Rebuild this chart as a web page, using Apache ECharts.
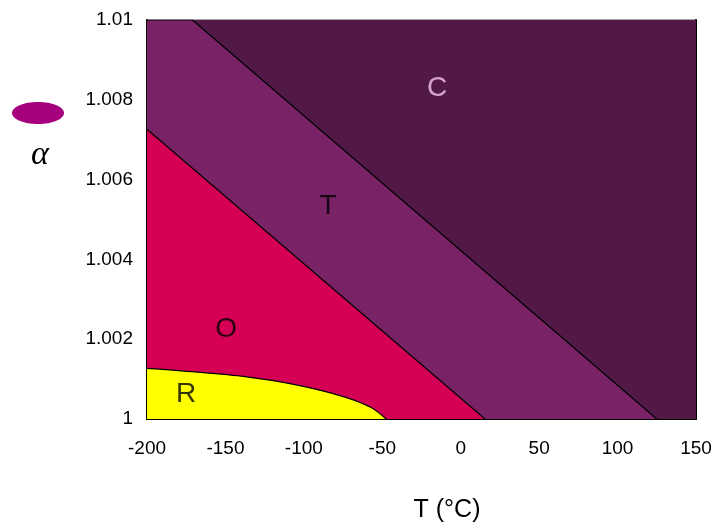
<!DOCTYPE html>
<html>
<head>
<meta charset="utf-8">
<script src="https://cdn.jsdelivr.net/npm/echarts@6/dist/echarts.min.js"></script>
<style>html,body{margin:0;padding:0;background:#fff}#c{width:715px;height:526px}</style>
</head>
<body>
<div id="c"></div>
<script>
// Phase-boundary data (T in °C, alpha)
const xTicks = [-200, -150, -100, -50, 0, 50, 100, 150];
const yTicks = [1, 1.002, 1.004, 1.006, 1.008, 1.01];
const regionC = [[-200, 1.01], [150, 1.01]];
const regionT = [[-200, 1.01], [-171, 1.01], [125, 1.0]];
const regionO = [[-200, 1.00726], [15.5, 1.0]];
const regionR = [[-200, 1.00127], [-169.4, 1.00118], [-137.5, 1.00106], [-105.6, 1.00086], [-73.8, 1.00055], [-56.8, 1.00028], [-47.5, 1.0]];
const regionLabels = [
  { name: 'C', value: [-15.1, 1.0083] },
  { name: 'T', value: [-84.6, 1.00534] },
  { name: 'O', value: [-149.6, 1.00224] },
  { name: 'R', value: [-175.1, 1.00061] }
];
const colors = { C: '#521846', T: '#7a2266', O: '#d50055', R: '#ffff00' };

const chart = echarts.init(document.getElementById('c'));
function areaSeries(data, color, z, lw, smooth) {
  return {
    type: 'line', data: data, symbol: 'none', z: z, silent: true,
    smooth: smooth || false,
    lineStyle: { color: '#000', width: lw },
    areaStyle: { color: color, opacity: 1, origin: 'start' }
  };
}
const font = '"Liberation Sans", Arial, sans-serif';
chart.setOption({
  animation: false,
  grid: { left: 147, right: 19, top: 20, bottom: 107, show: true, borderColor: '#555', borderWidth: 1, backgroundColor: 'transparent' },
  xAxis: {
    type: 'value', min: -200, max: 150, interval: 50,
    axisLine: { show: true, onZero: false, lineStyle: { color: '#000', width: 2 } },
    axisTick: { show: false }, splitLine: { show: false },
    axisLabel: { color: '#000', fontSize: 19, fontFamily: font, margin: 20 }
  },
  yAxis: [{
    type: 'value', min: 1, max: 1.01, interval: 0.002,
    axisLine: { show: true, onZero: false, lineStyle: { color: '#000', width: 2 } },
    axisTick: { show: false }, splitLine: { show: false },
    axisLabel: {
      color: '#000', fontSize: 19, fontFamily: font, margin: 14,
      formatter: function (v) {
        let best = yTicks.reduce((a, b) => Math.abs(b - v) < Math.abs(a - v) ? b : a);
        return String(best);
      }
    }
  }, {
    type: 'value', min: 1, max: 1.01, position: 'right',
    axisLine: { show: true, onZero: false, lineStyle: { color: '#000', width: 2 } },
    axisTick: { show: false }, splitLine: { show: false }, axisLabel: { show: false }
  }],
  series: [
    areaSeries(regionC, colors.C, 1, 0),
    areaSeries(regionT, colors.T, 2, 1.2),
    areaSeries(regionO, colors.O, 3, 1.2),
    areaSeries(regionR, colors.R, 4, 1.2, 0.3),
    {
      type: 'scatter', z: 10, symbolSize: 0, silent: true,
      data: regionLabels.map(d => ({
        name: d.name, value: d.value,
        label: { color: d.name === 'C' ? '#f8c8ec' : '#000' }
      })),
      label: {
        show: true, position: 'inside', formatter: '{b}',
        fontSize: 28, fontFamily: font
      }
    }
  ],
  graphic: [
    { type: 'ellipse', shape: { cx: 38, cy: 113, rx: 26, ry: 11 }, style: { fill: '#a6007e' } },
    { type: 'text', x: 40, y: 155, style: { text: 'α', font: 'italic 34px "Liberation Serif", "DejaVu Serif", serif', fill: '#000', textAlign: 'center', textVerticalAlign: 'middle' } },
    { type: 'text', x: 447, y: 510, style: { text: 'T (°C)', font: '25px "Liberation Sans", Arial, sans-serif', fill: '#000', textAlign: 'center', textVerticalAlign: 'middle' } }
  ]
});
</script>
</body>
</html>
